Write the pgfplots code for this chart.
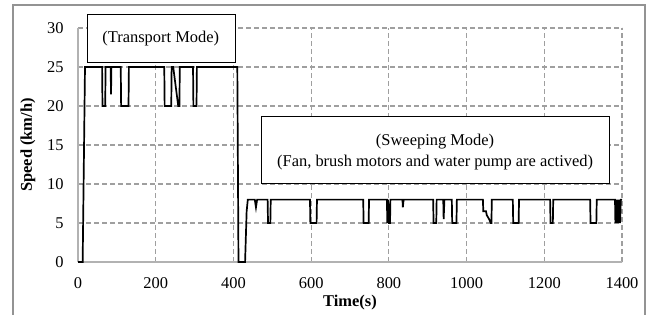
\documentclass[border=0pt]{standalone}
\usepackage{fontspec}
\setmainfont{Liberation Serif}
\usepackage{pgfplots}
\pgfplotsset{compat=1.18}
\begin{document}
\begin{tikzpicture}
\path[use as bounding box] (0,0) rectangle (653bp,315bp);
\draw[gray!85, line width=1.6bp] (13bp,0) -- (13bp,310bp) -- (645bp,310bp) -- (645bp,0);
\begin{axis}[
  at={(78bp,53bp)}, anchor=south west,
  scale only axis, width=544bp, height=234bp,
  xmin=0, xmax=1400, ymin=0, ymax=30,
  xtick={0,200,...,1400}, ytick={0,5,...,30},
  axis x line=bottom, axis y line=left,
  axis line style={gray!60, line width=1.3bp, -},
  major tick length=0pt,
  grid=major,
  major grid style={gray!75, dashed, line width=1.2bp, dash pattern=on 5bp off 3bp},
  /pgf/number format/assume math mode=true,
  /pgf/number format/1000 sep={},
  tick label style={font=\fontsize{16.5}{19}\selectfont},
  xticklabel style={anchor=center, yshift=-21bp},
  yticklabel style={anchor=east, xshift=-11bp},
  every axis x label/.style={at={(axis description cs:0.5,0)}, anchor=center, yshift=-41bp},
  every axis y label/.style={at={(axis description cs:0,0.5)}, xshift=-50bp, rotate=90, anchor=center},
  label style={font=\fontsize{16.5}{19}\selectfont\bfseries},
  xlabel={Time(s)}, ylabel={Speed (km/h)},
  clip=false,
]
\addplot[black, line width=1.7bp, mark=none] coordinates {
(0,0) (12,0) (18,25) (62,25) (63,20) (70,20) (71,25) (84,25) (85,21.5) (86,25)
(110,25) (111,20) (130,20) (131,25) (222,25) (223,20) (240,20) (241,25) (245,25)
(258,20) (261,20) (262,25) (296,25) (297,20) (305,20) (306,25) (410,25) (413,0)
(430,0) (434,6.5) (437,8) (455,8) (458,7) (461,8) (488,8) (489,5) (495,5) (496,8)
(597,8) (598,5) (614,5) (615,8) (734,8) (735,5) (748,5) (749,8) (795,8) (796,5)
(798,8) (800,5) (803,5) (804,8) (835,8) (836,7) (838,8) (914,8) (915,5) (922,5)
(923,8) (940,8) (941,5.5) (943,8) (962,8) (963,5) (974,5) (975,8) (1042,8)
(1043,6.5) (1050,6.5) (1052,6) (1058,5.5) (1062,5) (1064,5) (1065,8) (1119,8)
(1120,5) (1134,5) (1135,8) (1215,8) (1216,5) (1222,5) (1223,8) (1318,8) (1319,5)
(1334,5) (1335,8) (1382,8) (1383,5) (1385,8) (1387,5) (1389,8) (1391,5) (1393,8)
(1395,5) (1397,8) (1400,8)
};
\draw[black, fill=white, line width=0.8bp] (axis cs:23,31.8) rectangle (axis cs:404,25.6);
\node[font=\fontsize{16.5}{19}\selectfont] at (axis cs:213,28.7) {(Transport Mode)};
\draw[black, fill=white, line width=0.8bp] (axis cs:472.7,18.7) rectangle (axis cs:1367,10.1);
\node[font=\fontsize{16.5}{21.5}\selectfont, align=center] at (axis cs:919,14.1) {(Sweeping Mode)\\(Fan, brush motors and water pump are actived)};
\end{axis}
\end{tikzpicture}
\end{document}
